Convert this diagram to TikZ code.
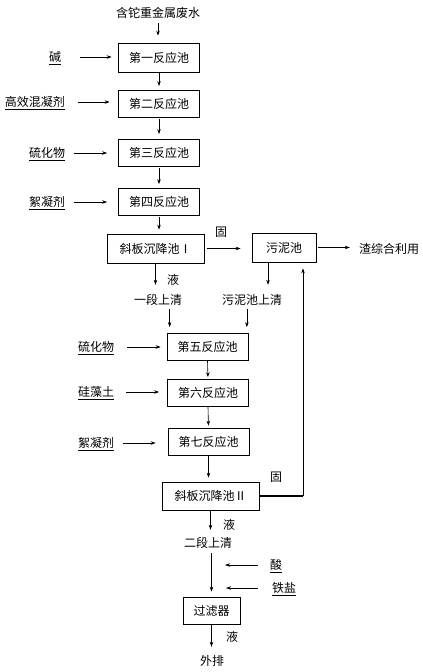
\documentclass[tikz,border=0pt]{standalone}
\usepackage{fontspec}
\newfontfamily\cjk{Noto Sans CJK SC}
\usetikzlibrary{arrows.meta,calc}
\begin{document}
\begin{tikzpicture}[x=1pt,y=-1pt,
  every node/.style={font=\cjk\fontsize{12}{14}\selectfont, inner sep=0pt, text height=10.5pt, text depth=1.5pt},
  box/.style={draw, line width=0.7pt, minimum height=27pt, minimum width=81pt},
  arr/.style={line width=0.6pt, -{Stealth[length=5pt,width=3.5pt]}},
  thickline/.style={line width=2pt}
]
\fill[white] (0,0) rectangle (423,672);
\useasboundingbox (0,0) rectangle (423,672);

% first stage
\node (title) at (158,13) {含铊重金属废水};
\node[box, minimum height=29pt] (b1) at (159,57.5) {第一反应池};
\node[box] (b2) at (159,104) {第二反应池};
\node[box] (b3) at (159,153) {第三反应池};
\node[box] (b4) at (159,202) {第四反应池};
\node (jian) at (55,57) {\underline{碱}};
\node (gx) at (35,102) {\underline{高效混凝剂}};
\node (lh1) at (47,153) {\underline{硫化物}};
\node (xn1) at (47,202) {\underline{絮凝剂}};

\node[box, minimum width=97pt, minimum height=29pt] (s1) at (155.5,248.5) {斜板沉降池Ⅰ};
\node[box, minimum width=64pt, minimum height=29pt] (sn) at (284,247.5) {污泥池};
\node (zha) at (389,249) {渣综合利用};
\node (gu1) at (221,232) {固};
\node (ye1) at (173,280) {液};
\node (yd) at (158,300) {一段上清};
\node (wq) at (252,300) {污泥池上清};

% second stage
\node[box] (b5) at (207.5,347) {第五反应池};
\node[box] (b6) at (208,393) {第六反应池};
\node[box] (b7) at (208.5,441.5) {第七反应池};
\node (lh2) at (96,347) {\underline{硫化物}};
\node (gzt) at (96,392) {\underline{硅藻土}};
\node (xn2) at (96,443) {\underline{絮凝剂}};
\node[box, minimum width=97pt, minimum height=28pt] (s2) at (210.5,496) {斜板沉降池Ⅱ};
\node (gu2) at (276,477) {固};
\node (ye2) at (229,525) {液};
\node (ed) at (208,543) {二段上清};
\node (suan) at (276,565) {\underline{酸}};
\node (ty) at (284,588) {\underline{铁盐}};
\node[box, minimum width=57pt, minimum height=27pt] (f) at (211.5,610.5) {过滤器};
\node (ye3) at (232,637) {液};
\node (wp) at (212,661) {外排};

% vertical chain arrows
\draw[arr, shorten <=4pt, shorten >=7pt] (title.south) -- (title.south |- b1.north);
\draw[arr, shorten <=1pt, shorten >=4pt] (b1.south) -- (b2.north);
\draw[arr, shorten <=1pt, shorten >=5pt] (b2.south) -- (b3.north);
\draw[arr, shorten <=1pt, shorten >=4pt] (b3.south) -- (b4.north);
\draw[arr, shorten <=1pt, shorten >=4pt] (b4.south) -- (b4.south |- s1.north);

% reagent arrows, stage one
\draw[arr, shorten <=19pt, shorten >=6.5pt] (jian.east) -- (jian.east -| b1.west);
\draw[arr, shorten <=13pt, shorten >=8.5pt] (gx.east) -- (gx.east -| b2.west);
\draw[arr, shorten <=9pt, shorten >=11pt] (lh1.east) -- (lh1.east -| b3.west);
\draw[arr, shorten <=9pt, shorten >=11pt] (xn1.east) -- (xn1.east -| b4.west);

% settling tank I
\draw[arr, shorten <=3pt, shorten >=11pt] (s1.east) -- (s1.east -| sn.west);
\draw[arr, shorten <=2pt, shorten >=9pt] (sn.east) -- (sn.east -| zha.west);
\draw[arr, shorten >=9pt] (s1.south) -- (s1.south |- yd.north);
\coordinate (snout) at ($(sn.south)+(-16,0)$);
\draw[arr, shorten >=9pt] (snout) -- (snout |- wq.north);
\coordinate (i5a) at ($(b5.north west)+(3,0)$);
\coordinate (i5b) at ($(b5.north east)+(-1.5,0)$);
\draw[arr, shorten <=3pt, shorten >=6pt] (yd.south -| i5a) -- (i5a);
\draw[arr, shorten <=3pt, shorten >=6pt] (wq.south -| i5b) -- (i5b);

% stage two chain
\draw[arr, shorten <=0pt, shorten >=2pt] (b5.south) -- (b6.north);
\draw[arr, shorten <=0pt, shorten >=2pt] (b6.south) -- (b7.north);
\draw[arr, shorten <=0pt, shorten >=4pt] (b7.south) -- (b7.south |- s2.north);
\draw[arr, shorten <=13pt, shorten >=6pt] (lh2.east) -- (lh2.east -| b5.west);
\draw[arr, shorten <=12pt, shorten >=8pt] (gzt.east) -- (gzt.east -| b6.west);
\draw[arr, shorten <=9pt, shorten >=12pt] (xn2.east) -- (xn2.east -| b7.west);

% return of sludge from settling tank II
\coordinate (ret) at (303,497);
\draw[thickline] (s2.east) -- (ret |- s2.east);
\draw[arr, shorten >=6pt] (ret |- s2.east) -- (ret |- sn.south);

% final stage
\draw[arr, shorten >=7pt] (s2.south) -- (s2.south |- ed.north);
\draw[arr, shorten <=4pt, shorten >=5pt] (ed.south -| f.north) -- (f.north);
\draw[arr, shorten <=12pt, shorten >=13.5pt] (suan.west) -- (suan.west -| f.north);
\draw[arr, shorten <=14pt, shorten >=14.5pt] (ty.west) -- (ty.west -| f.north);
\draw[arr, shorten >=8pt] (f.south) -- (f.south |- wp.north);
\end{tikzpicture}
\end{document}
